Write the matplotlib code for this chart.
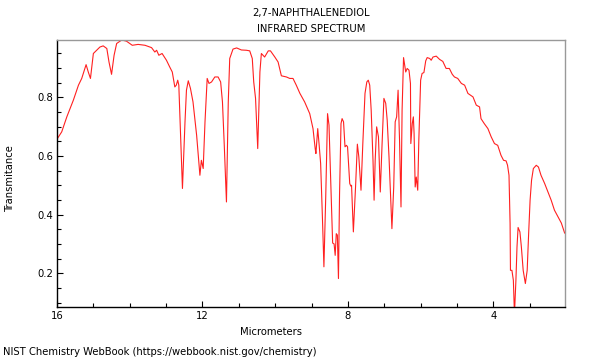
import matplotlib
matplotlib.use('Agg')
import matplotlib.pyplot as plt
from matplotlib.ticker import MultipleLocator

micrometers = [
    16.00, 15.87, 15.73, 15.55, 15.41, 15.32, 15.20, 15.14, 15.08, 15.00,
    14.91, 14.82, 14.73, 14.63, 14.57, 14.50, 14.43, 14.36, 14.22, 14.09,
    13.93, 13.77, 13.58, 13.40, 13.31, 13.26, 13.20, 13.11, 12.99, 12.90,
    12.83, 12.76, 12.72, 12.68, 12.65, 12.60, 12.55, 12.48, 12.44, 12.39,
    12.33, 12.26, 12.16, 12.07, 12.03, 11.98, 11.93, 11.87, 11.82, 11.75,
    11.66, 11.57, 11.50, 11.45, 11.40, 11.34, 11.29, 11.25, 11.16, 11.06,
    10.93, 10.79, 10.70, 10.63, 10.59, 10.54, 10.48, 10.42, 10.38, 10.29,
    10.19, 10.13, 10.01, 9.92, 9.83, 9.69, 9.60, 9.51, 9.42, 9.32,
    9.19, 9.05, 8.96, 8.90, 8.88, 8.83, 8.79, 8.75, 8.70, 8.66,
    8.61, 8.56, 8.52, 8.47, 8.42, 8.38, 8.35, 8.32, 8.29, 8.26,
    8.23, 8.19, 8.16, 8.12, 8.08, 8.04, 8.01, 7.95, 7.92, 7.90,
    7.85, 7.79, 7.74, 7.70, 7.64, 7.59, 7.53, 7.48, 7.44, 7.40,
    7.36, 7.31, 7.28, 7.25, 7.21, 7.16, 7.11, 7.06, 7.01, 6.96,
    6.92, 6.87, 6.82, 6.79, 6.74, 6.70, 6.66, 6.62, 6.58, 6.54,
    6.51, 6.47, 6.41, 6.37, 6.32, 6.28, 6.27, 6.23, 6.20, 6.18,
    6.15, 6.12, 6.08, 6.05, 6.00, 5.96, 5.91, 5.86, 5.82, 5.75,
    5.71, 5.66, 5.57, 5.48, 5.39, 5.30, 5.21, 5.13, 5.07, 4.98,
    4.88, 4.79, 4.70, 4.56, 4.47, 4.38, 4.34, 4.25, 4.15, 4.06,
    3.97, 3.88, 3.79, 3.72, 3.65, 3.61, 3.57, 3.54, 3.53, 3.49,
    3.45, 3.42, 3.38, 3.35, 3.32, 3.27, 3.23, 3.18, 3.12, 3.07,
    3.03, 2.99, 2.95, 2.90, 2.82, 2.76, 2.69, 2.59, 2.50, 2.41,
    2.32, 2.22, 2.13, 2.04,
]
transmittance = [
    0.657, 0.682, 0.733, 0.790, 0.841, 0.864, 0.911, 0.886, 0.864, 0.949,
    0.960, 0.971, 0.975, 0.966, 0.920, 0.878, 0.943, 0.983, 0.995, 0.991,
    0.977, 0.980, 0.977, 0.969, 0.954, 0.960, 0.943, 0.949, 0.926, 0.903,
    0.886, 0.835, 0.841, 0.858, 0.841, 0.670, 0.489, 0.716, 0.824, 0.856,
    0.830, 0.784, 0.670, 0.534, 0.585, 0.557, 0.716, 0.864, 0.847, 0.852,
    0.869, 0.869, 0.852, 0.784, 0.636, 0.443, 0.784, 0.932, 0.964, 0.968,
    0.961, 0.960, 0.958, 0.932, 0.852, 0.796, 0.625, 0.886, 0.949, 0.937,
    0.958, 0.958, 0.937, 0.920, 0.873, 0.869, 0.864, 0.864, 0.841, 0.813,
    0.784, 0.744, 0.693, 0.625, 0.608, 0.693, 0.636, 0.574, 0.386, 0.222,
    0.460, 0.744, 0.705, 0.500, 0.303, 0.300, 0.261, 0.335, 0.330, 0.182,
    0.470, 0.710, 0.727, 0.716, 0.631, 0.636, 0.631, 0.506, 0.497, 0.500,
    0.341, 0.494, 0.640, 0.597, 0.483, 0.642, 0.813, 0.852, 0.858, 0.841,
    0.756, 0.585, 0.449, 0.585, 0.699, 0.665, 0.477, 0.642, 0.796, 0.779,
    0.722, 0.597, 0.449, 0.352, 0.494, 0.716, 0.733, 0.824, 0.653, 0.426,
    0.756, 0.935, 0.886, 0.898, 0.892, 0.847, 0.642, 0.710, 0.733, 0.676,
    0.494, 0.528, 0.483, 0.653, 0.858, 0.881, 0.884, 0.924, 0.935, 0.932,
    0.926, 0.937, 0.940, 0.929, 0.922, 0.898, 0.898, 0.878, 0.869, 0.864,
    0.847, 0.841, 0.813, 0.801, 0.773, 0.767, 0.727, 0.710, 0.693, 0.665,
    0.642, 0.636, 0.602, 0.585, 0.583, 0.568, 0.534, 0.369, 0.210, 0.210,
    0.176, 0.060, 0.176, 0.290, 0.356, 0.341, 0.290, 0.210, 0.165, 0.210,
    0.335, 0.449, 0.517, 0.557, 0.568, 0.562, 0.534, 0.506, 0.477, 0.449,
    0.415, 0.392, 0.371, 0.337,
]

title_lines = ['2,7-NAPHTHALENEDIOL', 'INFRARED SPECTRUM']
x_label = 'Micrometers'
y_label = 'Transmitance'
footer = 'NIST Chemistry WebBook (https://webbook.nist.gov/chemistry)'

plt.rcParams['font.family'] = 'DejaVu Sans'
plt.rcParams['font.stretch'] = 'condensed'
fs = 8.0

fig = plt.figure(figsize=(6, 3.6), dpi=100)
ax = fig.add_axes([57 / 600, 1 - 307 / 360, 508 / 600, 267 / 360])
ax.plot(micrometers, transmittance, color='#ff2020', lw=0.8)

ax.set_xlim(16, 2.03)
ax.set_ylim(0.085, 0.995)
ax.xaxis.set_major_locator(MultipleLocator(4))
ax.xaxis.set_minor_locator(MultipleLocator(1))
ax.yaxis.set_major_locator(MultipleLocator(0.2))
ax.yaxis.set_minor_locator(MultipleLocator(0.05))
ax.tick_params(which='both', direction='in', top=False, right=False, labelsize=fs, pad=3)
ax.tick_params(which='major', length=4, width=0.8)
ax.tick_params(which='minor', length=3, width=0.8)
ax.xaxis.set_major_formatter(plt.FuncFormatter(lambda v, p: f'{v:g}'))
ax.yaxis.set_major_formatter(plt.FuncFormatter(lambda v, p: f'{v:.1f}'))

for side in ['top', 'right']:
    ax.spines[side].set_color('#999999')
for side in ['left', 'bottom']:
    ax.spines[side].set_color('black')
for s in ax.spines.values():
    s.set_linewidth(1.0)

fig.text(311 / 600, 1 - 13 / 360, title_lines[0], ha='center', va='center', fontsize=fs)
fig.text(311 / 600, 1 - 29 / 360, title_lines[1], ha='center', va='center', fontsize=fs)
fig.text(271 / 600, 1 - 332 / 360, x_label, ha='center', va='center', fontsize=fs)
fig.text(10 / 600, 1 - 178 / 360, y_label, ha='center', va='center', rotation=90, fontsize=fs)
fig.text(3 / 600, 1 - 352 / 360, footer, ha='left', va='center', fontsize=fs)

fig.savefig('out.png', dpi=100)
